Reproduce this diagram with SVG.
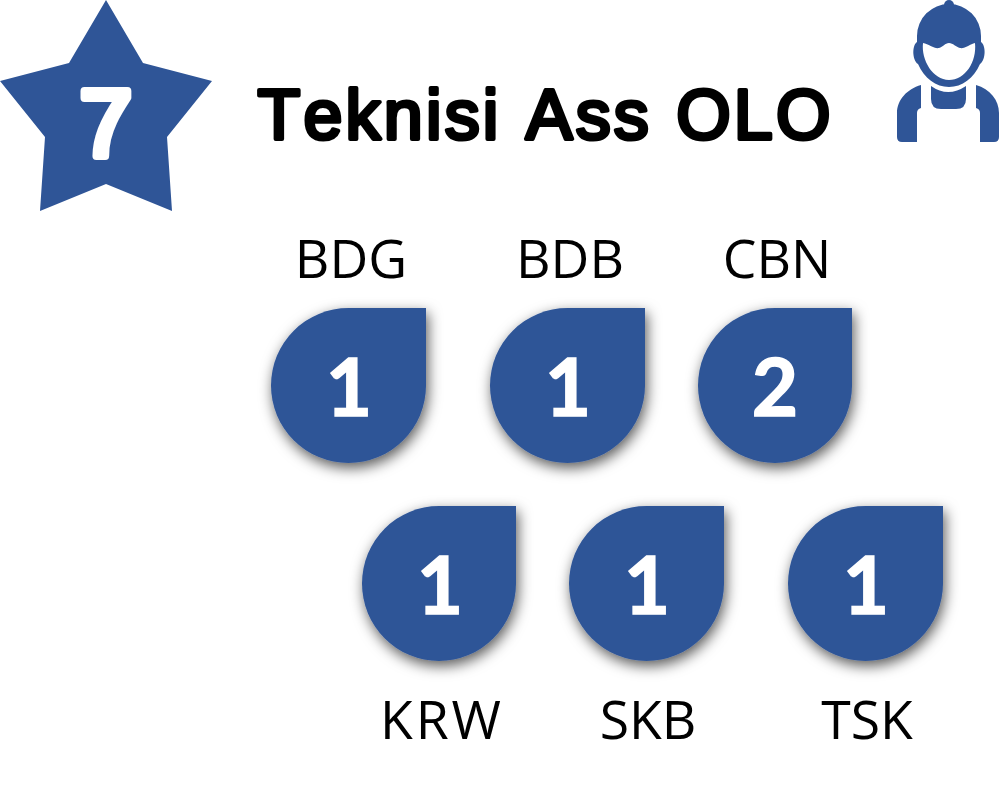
<svg xmlns="http://www.w3.org/2000/svg" width="1000" height="797" viewBox="0 0 1000 797">
<style>
.b{fill:#2f5597}
.lab{font-family:"Open Sans","Noto Sans",sans-serif;font-size:53.5px;fill:#000;text-anchor:middle}
.num{font-family:Lato,"Open Sans",sans-serif;font-weight:700;font-size:80px;fill:#fff;stroke:#fff;stroke-width:1.5px;text-anchor:middle}
</style>
<defs>
<filter id="sh" x="-20%" y="-20%" width="150%" height="150%"><feDropShadow dx="2" dy="5" stdDeviation="7" flood-color="#000" flood-opacity="0.65"/></filter>
<path id="drop" d="M155 0V77.500A77.500 77.500 0 1 1 77.500 0Z"/>
<path id="drop2" d="M154 0V77.500A77 77.500 0 1 1 77 0Z"/>
</defs>
<rect width="1000" height="797" fill="#fff"/>
<g id="star">
<polygon class="b" points="106,0 143,63 212,81 167,137 172,211 106,184 40,211 45,137 0,81 69,63"/>
<text x="106" y="155.500" font-family="'Liberation Sans',sans-serif" font-size="94" fill="#fff" stroke="#fff" stroke-width="8" stroke-linejoin="round" text-anchor="middle">7</text>
</g>
<g id="title"><text x="257.500" y="139" font-family="'Liberation Sans',Arial,sans-serif" font-size="70" letter-spacing="3.2" word-spacing="1.5" style="font-kerning:none" fill="#000" stroke="#000" stroke-width="4" stroke-linejoin="round">Teknisi Ass OLO</text></g>
<g id="icon" class="b">
<circle cx="949" cy="5" r="5"/>
<path d="M917 36A32 32 0 0 1 981 36V42C986 45 986 60 980 64C974 78 962 87 949 87C936 87 924 78 918 64C912 60 912 45 917 42Z"/>
<path fill="#fff" d="M923 43C929 44 934 49 939 48C943 47 945 43 949 43C953 43 956 47 960 48C965 49 970 44 975 43C977 62 965 80 949 80C933 80 921 60 923 43Z"/>
<path d="M921 85V108Q917 109 917 113V142H902Q897 142 897 137V113C897 100 907 89 921 85Z"/>
<path d="M976 85V108Q980 109 980 113V142H994Q999 142 999 137V113C999 100 990 89 976 85Z"/>
<path d="M931 86Q948 98 966 86V99Q966 109 956 109H941Q931 109 931 99Z"/>
</g>
<g id="bdg"><use href="#drop" class="b" x="271" y="308" filter="url(#sh)"/><text class="num" x="349" y="416">1</text><text class="lab" x="351" y="278">BDG</text></g>
<g id="bdb"><use href="#drop" class="b" x="490" y="308" filter="url(#sh)"/><text class="num" x="568" y="416">1</text><text class="lab" x="570" y="278">BDB</text></g>
<g id="cbn"><use href="#drop2" class="b" x="698" y="308" filter="url(#sh)"/><text class="num" x="775" y="416">2</text><text class="lab" x="777" y="278">CBN</text></g>
<g id="krw"><use href="#drop2" class="b" x="362" y="506" filter="url(#sh)"/><text class="num" x="440" y="614">1</text><text class="lab" x="440.500" y="739" textLength="121">KRW</text></g>
<g id="skb"><use href="#drop" class="b" x="569" y="506" filter="url(#sh)"/><text class="num" x="647" y="614">1</text><text class="lab" x="648" y="739">SKB</text></g>
<g id="tsk"><use href="#drop" class="b" x="788" y="506" filter="url(#sh)"/><text class="num" x="866" y="614">1</text><text class="lab" x="867" y="739">TSK</text></g>
</svg>
